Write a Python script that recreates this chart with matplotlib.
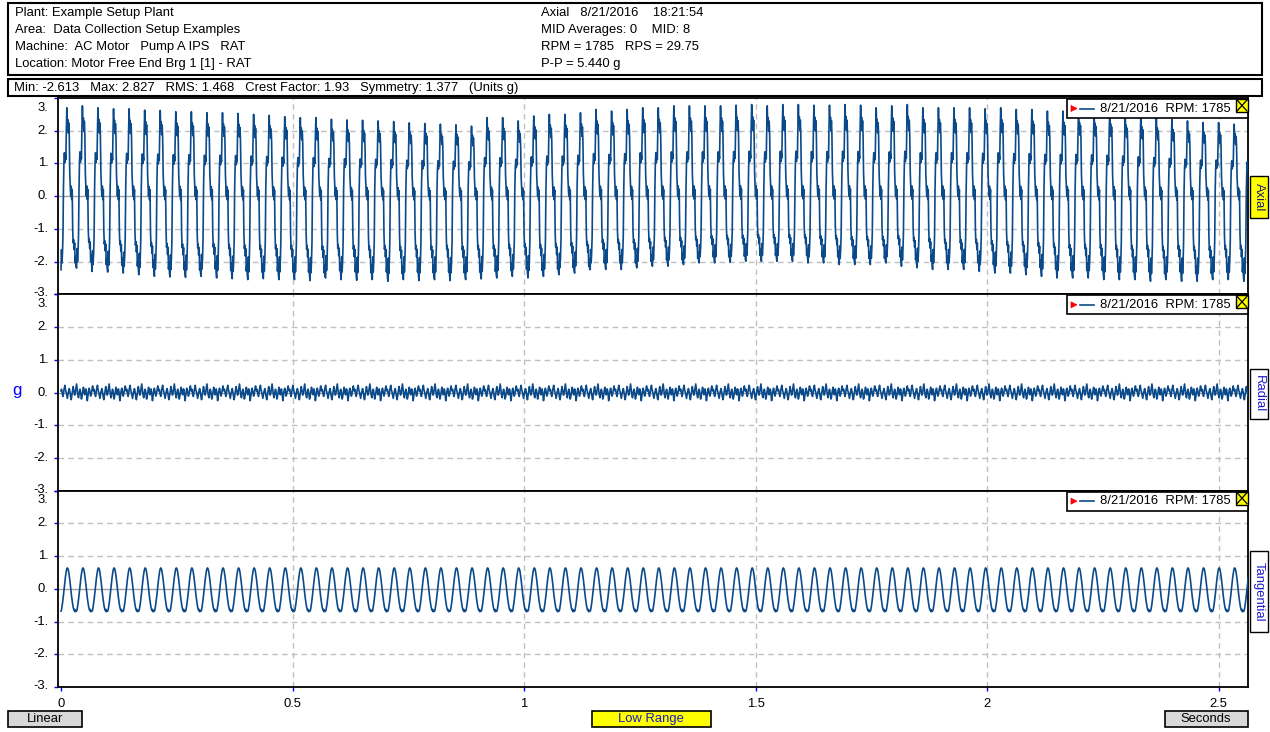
import numpy as np
import matplotlib
matplotlib.use('Agg')
import matplotlib.pyplot as plt
from matplotlib.patches import Rectangle, Polygon
from matplotlib.lines import Line2D
import matplotlib.transforms as mtransforms

plt.rcParams['font.family'] = ['Liberation Sans', 'DejaVu Sans']

# ---------------- dados ----------------
rps = 29.75
data_str = '8/21/2016  RPM: 1785'
canais = ['Axial', 'Radial', 'Tangential']

# um ciclo (uma rotacao) de cada canal, em g
axial_ciclo = [-2.2, -1.6, -2.0, -1.7, -1.2, 0.2, 1.0, 1.3, 1.0, 1.25, 1.1, 2.0,
               2.65, 2.1, 2.3, 1.9, 2.2, 1.8, 0.7, 0.3, 0.0, 0.3, -0.1, 0.2,
               -1.0, -1.4, -1.3, -1.6, -1.4, -2.0, -1.8, -2.1]
tang_ciclo = [-0.68, -0.64, -0.55, -0.45, -0.33, -0.20, -0.06, 0.08, 0.22, 0.35, 0.46, 0.55,
              0.61, 0.64, 0.62, 0.58, 0.50, 0.40, 0.28, 0.14, 0.00, -0.13, -0.26, -0.37,
              -0.47, -0.56, -0.62, -0.66, -0.63, -0.70, -0.66, -0.69]
radial_ruido = [0.05, 0.10, 0.02, -0.06, -0.12, -0.04, 0.08, 0.15, 0.22, 0.10, 0.04, -0.02,
                -0.10, -0.18, -0.08, 0.00, 0.06, 0.12, 0.05, -0.05, -0.15, -0.22, -0.12, -0.02,
                0.10, 0.18, 0.08, 0.02, -0.08, -0.04, 0.06, 0.14, 0.26, 0.12, 0.00, -0.10,
                -0.16, -0.06, 0.04, 0.10, 0.03, -0.08, -0.20, -0.14, -0.04, 0.06, 0.16, 0.09,
                -0.01, -0.07, 0.02, 0.11, 0.04, -0.09, -0.25, -0.13, -0.03, 0.08, 0.13, 0.05,
                -0.03, -0.11, -0.05, 0.03, 0.12, 0.20, 0.07]

# picos e vales de cada ciclo do canal axial
axial_picos = [2.70, 2.76, 2.70, 2.67, 2.67, 2.63, 2.62, 2.58, 2.58, 2.55, 2.55, 2.53, 2.50,
               2.47, 2.43, 2.40, 2.40, 2.35, 2.33, 2.32, 2.30, 2.28, 2.24, 2.22, 2.20, 2.18,
               2.14, 2.40, 2.40, 2.30, 2.45, 2.50, 2.50, 2.55, 2.65, 2.60, 2.65, 2.70, 2.70,
               2.76, 2.76, 2.76, 2.76, 2.78, 2.80, 2.76, 2.80, 2.80, 2.78, 2.78, 2.80, 2.78,
               2.70, 2.76, 2.80, 2.70, 2.70, 2.70, 2.70, 2.67, 2.70, 2.65, 2.65, 2.60, 2.60,
               2.60, 2.57, 2.55, 2.50, 2.45, 2.40, 2.35, 2.30, 2.25, 2.25, 2.20, 2.15, 2.20]
axial_vales = [-2.25, -2.20, -2.30, -2.32, -2.35, -2.40, -2.45, -2.47, -2.48, -2.45, -2.50, -2.52, -2.55,
               -2.52, -2.55, -2.55, -2.58, -2.50, -2.55, -2.57, -2.55, -2.60, -2.55, -2.58, -2.55, -2.58,
               -2.55, -2.53, -2.50, -2.45, -2.50, -2.45, -2.40, -2.35, -2.24, -2.24, -2.24, -2.19, -2.14,
               -2.14, -2.09, -2.04, -2.04, -2.02, -1.99, -1.99, -1.99, -1.99, -2.04, -2.04, -2.09, -2.09,
               -2.09, -2.04, -2.14, -2.19, -2.24, -2.24, -2.24, -2.30, -2.35, -2.35, -2.40, -2.45, -2.50,
               -2.50, -2.50, -2.55, -2.55, -2.55, -2.60, -2.55, -2.60, -2.60, -2.55, -2.55, -2.60, -2.65]

cabecalho_esq = ['Plant: Example Setup Plant',
                 'Area:  Data Collection Setup Examples',
                 'Machine:  AC Motor   Pump A IPS   RAT',
                 'Location: Motor Free End Brg 1 [1] - RAT']
cabecalho_dir = ['Axial   8/21/2016    18:21:54',
                 'MID Averages: 0    MID: 8',
                 'RPM = 1785   RPS = 29.75',
                 'P-P = 5.440 g']
estatisticas = 'Min: -2.613   Max: 2.827   RMS: 1.468   Crest Factor: 1.93   Symmetry: 1.377   (Units g)'

xticks = [0, 0.5, 1, 1.5, 2, 2.5]
xlabels = ['0', '0.5', '1', '1.5', '2', '2.5']
yticks = [-3, -2, -1, 0, 1, 2, 3]

# ---------------- montando os sinais ----------------
ciclo = np.array(axial_ciclo)
axial = []
for k in range(len(axial_picos)):
    seg = np.where(ciclo > 0, ciclo * axial_picos[k] / ciclo.max(),
                   ciclo * axial_vales[k] / ciclo.min())
    axial.extend(seg)
axial = np.array(axial)
N = len(axial)
dt = 1.0 / rps / len(axial_ciclo)
t = np.arange(N) * dt
tang = np.resize(np.array(tang_ciclo), N)
radial = np.resize(np.array(radial_ruido), N)
sinais = [axial, radial, tang]

# ---------------- figura ----------------
W, H = 1270, 732
FS = 9.4
fig = plt.figure(figsize=(W / 100, H / 100), dpi=100)
fig.patch.set_facecolor('white')

def fx(x):
    return x / W

def fy(y):
    return 1 - y / H

def caixa(x0, y0, x1, y1, face='white', lw=1.2, z=1):
    r = Rectangle((fx(x0), fy(y1)), fx(x1) - fx(x0), fy(y0) - fy(y1),
                  transform=fig.transFigure, fc=face, ec='black', lw=lw, zorder=z)
    fig.patches.append(r)

def texto(x, y, s, **kw):
    fig.text(fx(x), fy(y), s, va='center', fontsize=FS, **kw)

# cabecalho
caixa(8, 3, 1262, 75, lw=1.5)
for i, s in enumerate(cabecalho_esq):
    texto(15, 13 + 17 * i, s)
for i, s in enumerate(cabecalho_dir):
    texto(541, 13 + 17 * i, s)
caixa(8, 79, 1262, 96, lw=1.5)
texto(14, 87.5, estatisticas)

cor_linha = '#0b4a8a'
x_esq, x_dir = 58, 1248
y_top, y_bot = 98, 687
alt = (y_bot - y_top) / 3.0
xlim = (-0.0065, 2.5635)

tab_pos = [(176, 218), (369, 419), (551, 632)]
tab_cor = ['#ffff00', 'white', 'white']

for i in range(3):
    y0 = y_top + i * alt
    y1 = y0 + alt
    ax = fig.add_axes([fx(x_esq), fy(y1), fx(x_dir) - fx(x_esq), fy(y0) - fy(y1)])
    ax.plot(t, sinais[i], color=cor_linha, lw=1.2, zorder=3)
    ax.set_xlim(*xlim)
    ax.set_ylim(-3, 3)
    for v in [-2, -1, 1, 2]:
        ax.axhline(v, color='#c0c0c0', ls=(0, (4, 3)), lw=1.0, zorder=1)
    ax.axhline(0, color='#a0a0a0', lw=1.0, zorder=1)
    for v in xticks[1:]:
        ax.axvline(v, color='#c0c0c0', ls=(0, (4, 3)), lw=1.0, zorder=1)
    for sp in ax.spines.values():
        sp.set_color('black')
        sp.set_linewidth(1.3)
    ax.set_yticks(yticks)
    ax.set_yticklabels([])
    ax.tick_params(axis='y', color='blue', length=3, width=1)
    trans = mtransforms.blended_transform_factory(ax.transAxes, ax.transData)
    for v in yticks:
        yy = v
        if v == 3:
            yy = 2.7
        if v == -3:
            yy = -2.97
        ax.text(-0.008, yy, '%d.' % v, transform=trans, ha='right', va='center', fontsize=FS)
    if i < 2:
        ax.set_xticks(xticks)
        ax.tick_params(axis='x', length=0, labelbottom=False)
    else:
        ax.set_xticks(xticks)
        ax.set_xticklabels(xlabels, fontsize=FS)
        ax.tick_params(axis='x', color='blue', length=3, width=1, pad=5)

    # legenda
    ly = y0 + 1
    caixa(1067, ly, 1248, ly + 19, lw=1.2, z=4)
    fig.patches.append(Polygon([[fx(1071), fy(ly + 6.5)], [fx(1071), fy(ly + 12.5)], [fx(1077), fy(ly + 9.5)]],
                               closed=True, transform=fig.transFigure, fc='red', ec='red', lw=0.5, zorder=5))
    fig.add_artist(Line2D([fx(1080), fx(1094)], [fy(ly + 9.5), fy(ly + 9.5)], color=cor_linha, lw=1.2, zorder=5))
    fig.text(fx(1100), fy(ly + 9.5), data_str, va='center', fontsize=FS, zorder=5)
    caixa(1236, ly, 1248, ly + 13, face='#ffff00', lw=1.0, z=5)
    fig.add_artist(Line2D([fx(1237), fx(1247)], [fy(ly + 1), fy(ly + 12)], color='black', lw=0.9, zorder=6))
    fig.add_artist(Line2D([fx(1237), fx(1247)], [fy(ly + 12), fy(ly + 1)], color='black', lw=0.9, zorder=6))

    # aba lateral
    a0, a1 = tab_pos[i]
    caixa(1250, a0, 1268, a1, face=tab_cor[i], lw=1.0)
    fig.text(fx(1259), fy((a0 + a1) / 2), canais[i], rotation=270, ha='center', va='center',
             fontsize=FS, color='#1a1acc' if i > 0 else '#1a1a80')

# rotulo g
fig.text(fx(17), fy(390), 'g', color='blue', fontsize=12, ha='center', va='center')

# botoes de baixo
caixa(8, 711, 82, 727, face='#d8d8d8', lw=1.2)
fig.text(fx(45), fy(719), 'Linear', ha='center', va='center', fontsize=FS)
caixa(592, 711, 711, 727, face='#ffff00', lw=1.2)
fig.text(fx(651), fy(719), 'Low Range', ha='center', va='center', fontsize=FS, color='#1a1acc')
caixa(1165, 711, 1248, 727, face='#d8d8d8', lw=1.2)
fig.text(fx(1206), fy(719), 'Seconds', ha='center', va='center', fontsize=FS)

fig.savefig('out.png', dpi=100)
